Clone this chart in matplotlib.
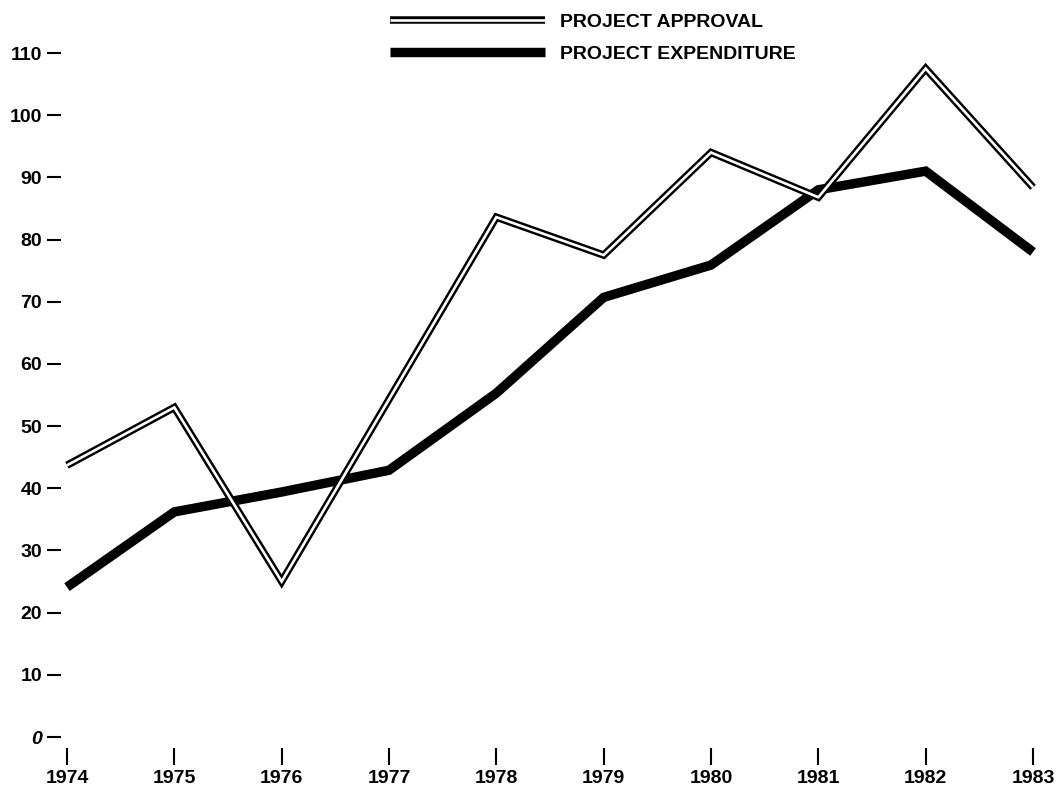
import matplotlib
matplotlib.use("Agg")
import matplotlib.pyplot as plt
import matplotlib.patheffects as pe

# dados
years = [1974, 1975, 1976, 1977, 1978, 1979, 1980, 1981, 1982, 1983]
approval = [43.7, 53.0, 25.0, 54.3, 83.6, 77.5, 94.0, 86.8, 107.5, 88.4]
expenditure = [24.1, 36.2, 39.4, 42.9, 55.3, 70.7, 75.9, 88.0, 91.0, 78.0]
y_ticks = list(range(0, 111, 10))

plt.rcParams['font.family'] = ['Liberation Sans', 'DejaVu Sans']
plt.rcParams['font.weight'] = 'bold'

fig = plt.figure(figsize=(10.57, 7.87), dpi=100)
ax = fig.add_axes([67 / 1057, 50 / 787, (1033 - 67) / 1057, (737 - 53) / 787])

# despesa (linha grossa)
ax.plot(years, expenditure, color='black', lw=6.8, solid_joinstyle='miter',
        solid_capstyle='butt', label='PROJECT EXPENDITURE', zorder=2, clip_on=False)

# aprovação (linha dupla)
ax.plot(years, approval, color='white', lw=1.9, solid_joinstyle='miter',
        solid_capstyle='butt', label='PROJECT APPROVAL', zorder=3, clip_on=False,
        path_effects=[pe.Stroke(linewidth=5.4, foreground='black',
                                joinstyle='miter', capstyle='butt'),
                      pe.Normal()])

ax.set_xlim(1974, 1983)
ax.set_ylim(0, 110)

for s in ax.spines.values():
    s.set_visible(False)
ax.spines['left'].set_position(('outward', 4))
ax.spines['bottom'].set_position(('outward', 8))

ax.set_xticks(years)
ax.set_xticklabels([str(y) for y in years])
ax.set_yticks(y_ticks)
ax.set_yticklabels([str(v) for v in y_ticks])
# o zero aparece em itálico no original
ax.get_yticklabels()[0].set_fontstyle('italic')

ax.tick_params(axis='y', direction='out', length=10, width=1.5, pad=4,
               labelsize=14, color='black')
ax.tick_params(axis='x', direction='out', length=12, width=1.5, pad=4,
               labelsize=14, color='black')

# legenda
h, l = ax.get_legend_handles_labels()
fig.legend([h[1], h[0]], [l[1], l[0]], loc='upper left',
           bbox_to_anchor=(390 / 1057, 1 - 13 / 787), frameon=False,
           borderpad=0, borderaxespad=0, handlelength=7.97, handletextpad=0.75,
           labelspacing=0.75, prop={'size': 14, 'weight': 'bold'})

fig.savefig("out.png", dpi=100)
